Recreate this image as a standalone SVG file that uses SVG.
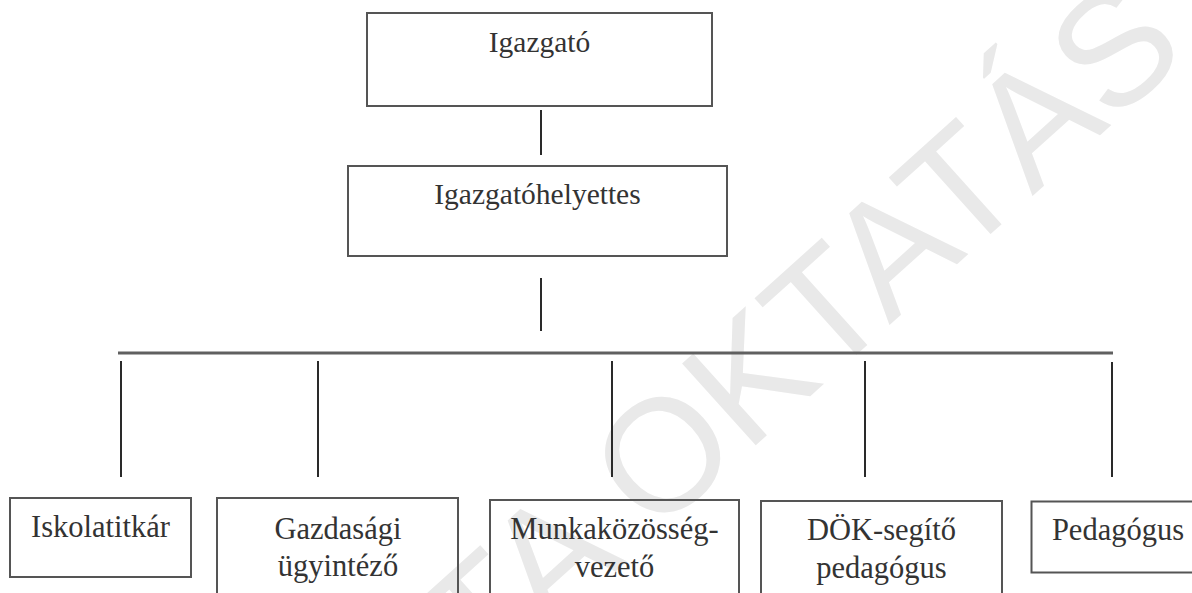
<svg xmlns="http://www.w3.org/2000/svg" width="1192" height="593" viewBox="0 0 1192 593">
<style>
.box{fill:none;stroke:#555555;stroke-width:2}
.lbl{font-family:"Liberation Serif","Times New Roman",serif;fill:#333333;text-anchor:middle}
.top{font-size:29.5px}
.bot{font-size:30.5px}
.ln{stroke:#2a2a2a;stroke-width:2;fill:none}
.bar{stroke:#606060;stroke-width:3;fill:none}
.wm{font-family:"Liberation Sans",Arial,sans-serif;font-size:160px;fill:#e9e9e9}
</style>
<rect width="1192" height="593" fill="#ffffff"/>
<text class="wm" transform="translate(484,690) rotate(-42)">TA OKTATÁS</text>
<g id="connectors">
<line class="ln" x1="541" y1="110" x2="541" y2="155"/>
<line class="ln" x1="541" y1="278" x2="541" y2="331"/>
<line class="bar" x1="118" y1="353" x2="1113" y2="353"/>
<line class="ln" x1="121" y1="361" x2="121" y2="477"/>
<line class="ln" x1="318" y1="361" x2="318" y2="477"/>
<line class="ln" x1="612" y1="361" x2="612" y2="477"/>
<line class="ln" x1="865" y1="361" x2="865" y2="477"/>
<line class="ln" x1="1112" y1="362" x2="1112" y2="477"/>
</g>
<g id="igazgato">
<rect class="box" x="367" y="13" width="345" height="93"/>
<text class="lbl top" x="539.5" y="52">Igazgató</text>
</g>
<g id="igazgatohelyettes">
<rect class="box" x="348" y="166" width="379" height="90"/>
<text class="lbl top" x="537.5" y="204">Igazgatóhelyettes</text>
</g>
<g id="iskolatitkar">
<rect class="box" x="10" y="498" width="181" height="79"/>
<text class="lbl bot" x="100.5" y="537">Iskolatitkár</text>
</g>
<g id="gazdasagi">
<rect class="box" x="217" y="498" width="241" height="110"/>
<text class="lbl bot" x="338" y="539">Gazdasági</text>
<text class="lbl bot" x="338" y="576">ügyintéző</text>
</g>
<g id="munkakozosseg">
<rect class="box" x="490" y="500" width="249" height="110"/>
<text class="lbl bot" x="614.5" y="539">Munkaközösség-</text>
<text class="lbl bot" x="614.5" y="577">vezető</text>
</g>
<g id="dok">
<rect class="box" x="761" y="501" width="241" height="110"/>
<text class="lbl bot" x="881.5" y="540">DÖK-segítő</text>
<text class="lbl bot" x="881.5" y="578">pedagógus</text>
</g>
<g id="pedagogus">
<rect class="box" x="1031.5" y="501.5" width="180" height="71"/>
<text class="lbl bot" x="1118" y="540">Pedagógus</text>
</g>
</svg>
